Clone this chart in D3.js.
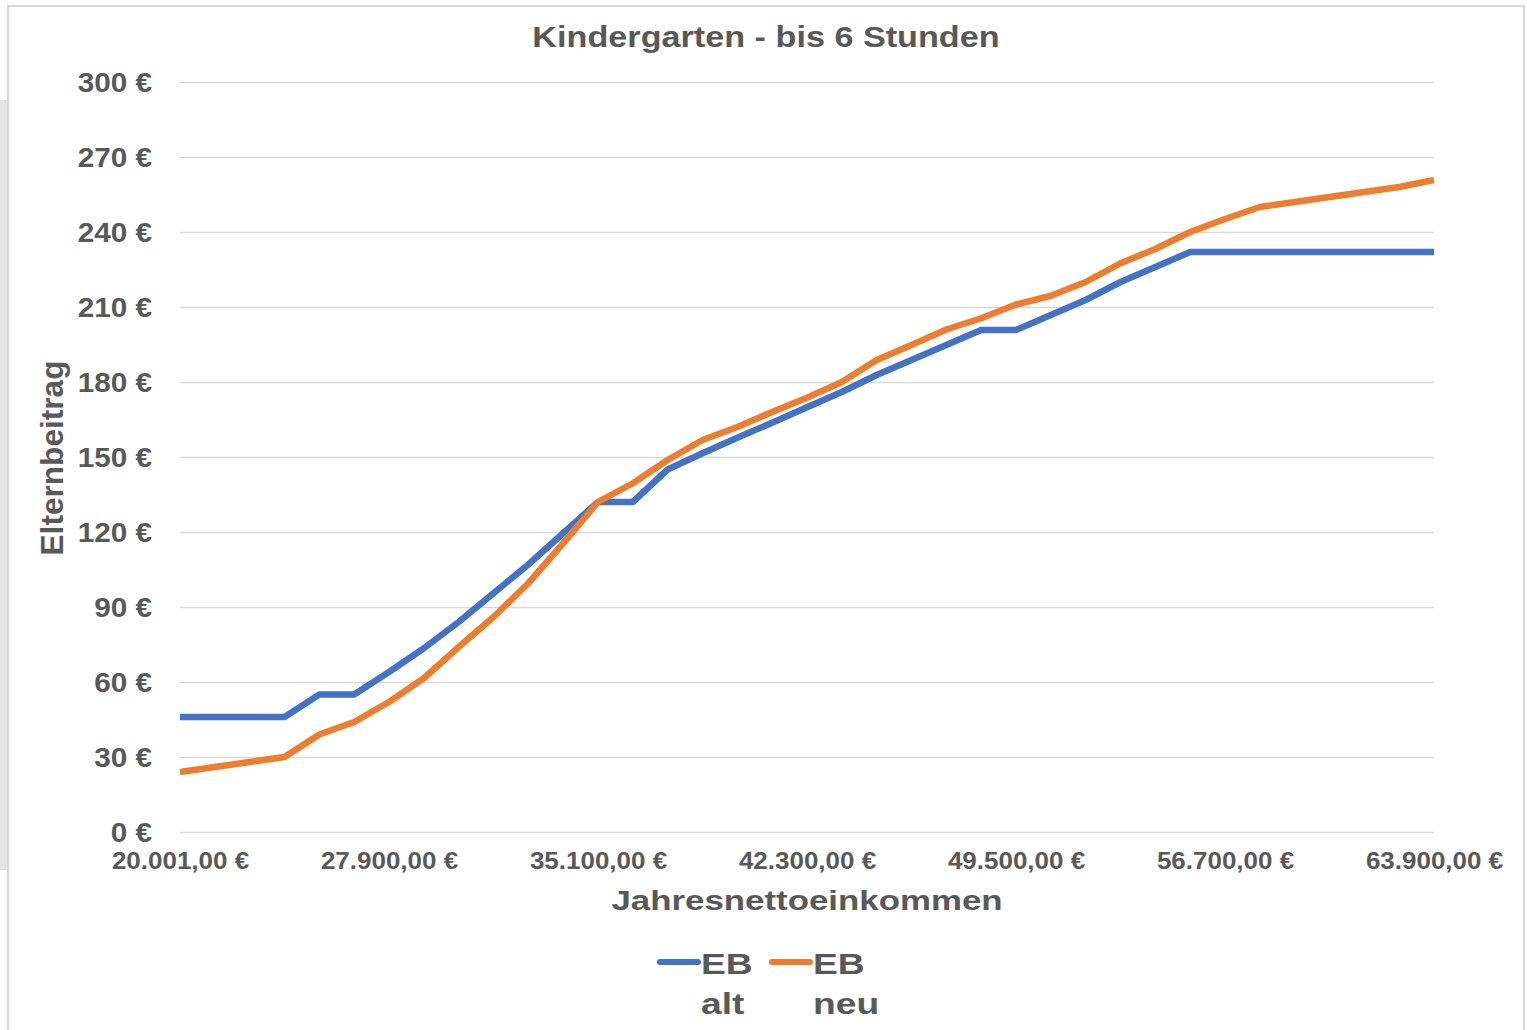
<!DOCTYPE html>
<html>
<head>
<meta charset="utf-8">
<script src="https://cdn.jsdelivr.net/npm/d3@7"></script>
<style>
  html, body { margin: 0; padding: 0; background: #fff; }
  svg { display: block; }
  text { font-family: "Liberation Sans", Arial, sans-serif; font-weight: bold; fill: #595959; }
</style>
</head>
<body>
<svg id="chart" width="1527" height="1030"></svg>
<script>
// ---- data ----
const incomes = [20001, 21900, 23100, 24300, 25500, 26700, 27900, 29100, 30300, 31500,
  32700, 33900, 35100, 36300, 37500, 38700, 39900, 41100, 42300, 43500,
  44700, 45900, 47100, 48300, 49500, 50700, 51900, 53100, 54300, 55500,
  56700, 57900, 59100, 60300, 61500, 62700, 63900];
const ebAlt = [46, 46, 46, 46, 55, 55, 64, 73.5, 84, 95.5,
  107, 119.5, 132, 132, 145, 151.5, 157.7, 163.7, 169.9, 176,
  182.8, 188.8, 194.8, 200.8, 200.8, 206.8, 212.8, 220, 226, 232,
  232, 232, 232, 232, 232, 232, 232];
const ebNeu = [24, 26, 28, 30, 39, 44, 52, 61.5, 74, 86,
  99.5, 115.5, 132, 139.5, 148.8, 156.8, 162, 168, 173.7, 180,
  188.8, 194.8, 201, 205.5, 211, 214.5, 220, 227.5, 233.2, 240,
  245.2, 250, 252, 254, 256, 258, 260.8];
const yTicks = [0, 30, 60, 90, 120, 150, 180, 210, 240, 270, 300];
const xTickIncomes = [20001, 27900, 35100, 42300, 49500, 56700, 63900];
const seriesNames = ["EB alt", "EB neu"];
const seriesColors = ["#4472C4", "#ED7D31"];
const title = "Kindergarten - bis 6 Stunden";
const xTitle = "Jahresnettoeinkommen";
const yTitle = "Elternbeitrag";

// ---- layout ----
const svg = d3.select("#chart");
const L = 180, R = 1434, T = 82, B = 832;

const loc = d3.formatLocale({decimal: ",", thousands: ".", grouping: [3], currency: ["", " €"]});
const fmtX = loc.format("$,.2f");
const fmtY = v => v + " €";

const x = d3.scalePoint().domain(incomes).range([L, R]);
const y = d3.scaleLinear().domain([0, 300]).range([B, T]);

// border
svg.append("rect").attr("x", 8).attr("y", 6).attr("width", 1516).attr("height", 1040)
  .attr("fill", "#fff").attr("stroke", "#d9d9d9").attr("stroke-width", 2);
// faint watermark band at left edge
svg.append("rect").attr("x", 0).attr("y", 100).attr("width", 7).attr("height", 770).attr("fill", "#e4e4e4");

// gridlines + y labels
const sxY = 1.1;
const yAxis = svg.append("g").attr("transform", `translate(${L},0)`)
  .call(d3.axisLeft(y).tickValues(yTicks).tickSize(-(R - L)).tickPadding(0).tickFormat(fmtY));
yAxis.select(".domain").remove();
yAxis.selectAll(".tick line").attr("stroke", "#d9d9d9").attr("stroke-width", 1.3);
yAxis.selectAll(".tick text")
  .attr("x", (152 - L) / sxY).attr("dy", "0.35em")
  .attr("transform", `scale(${sxY},1)`)
  .style("font-size", "27px").attr("fill", "#595959").attr("text-anchor", "end")
  .style("font-family", '"Liberation Sans", Arial, sans-serif').style("font-weight", "bold");

// x labels
const sxX = 1.13;
const xAxis = svg.append("g").attr("transform", `translate(0,${B})`)
  .call(d3.axisBottom(x).tickValues(xTickIncomes).tickSize(0).tickPadding(0).tickFormat(fmtX));
xAxis.select(".domain").remove();
xAxis.selectAll(".tick text")
  .attr("y", 0).attr("dy", 0)
  .attr("transform", `translate(0,37) scale(${sxX},1)`)
  .style("font-size", "23px").attr("fill", "#595959")
  .style("font-family", '"Liberation Sans", Arial, sans-serif').style("font-weight", "bold");

// lines
const line = d3.line().x((d, i) => x(incomes[i])).y(d => y(d));
[ebAlt, ebNeu].forEach((s, k) => {
  svg.append("path").datum(s).attr("d", line)
    .attr("fill", "none").attr("stroke", seriesColors[k])
    .attr("stroke-width", 6.5).attr("stroke-linejoin", "round").attr("stroke-linecap", "butt");
});

// titles
svg.append("text").attr("transform", "translate(766,47) scale(1.14,1)")
  .attr("text-anchor", "middle").style("font-size", "30px").text(title);
svg.append("text").attr("transform", "translate(807,910) scale(1.245,1)")
  .attr("text-anchor", "middle").style("font-size", "28px").text(xTitle);
svg.append("text").attr("transform", "translate(63,458) rotate(-90) scale(1.02,1)")
  .attr("text-anchor", "middle").style("font-size", "31px").text(yTitle);

// legend
const legX = [658, 770];
seriesNames.forEach((n, k) => {
  const g = svg.append("g").attr("transform", `translate(${legX[k]},0)`);
  g.append("line").attr("x1", 2).attr("x2", 40).attr("y1", 962).attr("y2", 962)
    .attr("stroke", seriesColors[k]).attr("stroke-width", 6).attr("stroke-linecap", "round");
  const parts = n.split(" ");
  parts.forEach((p, j) => {
    g.append("text").attr("transform", `translate(43,${974 + j * 40}) scale(1.24,1)`)
      .style("font-size", "30px").text(p);
  });
});
</script>
</body>
</html>
